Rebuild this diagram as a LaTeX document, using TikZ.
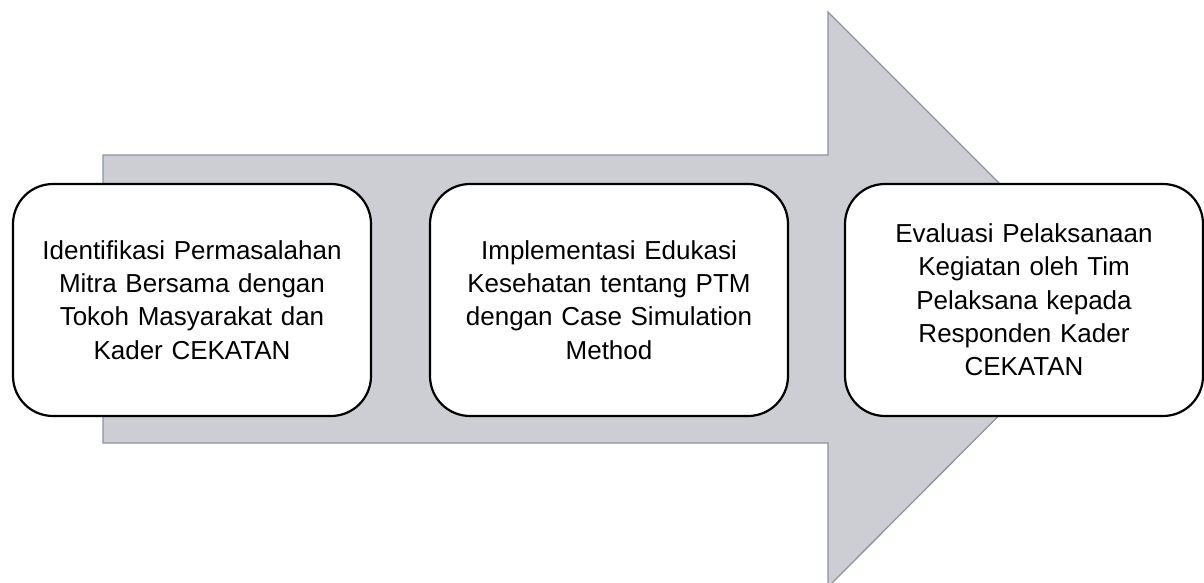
\documentclass[tikz,border=0pt]{standalone}
\usepackage{fontspec}
\setmainfont{Liberation Sans}
\begin{document}
\begin{tikzpicture}[x=1pt,y=-1pt,
  stepbox/.style={draw=black, line width=2.2pt, fill=white, rounded corners=40pt,
    minimum width=358pt, minimum height=232pt, inner sep=0pt, align=center,
    font=\fontsize{26}{33.3}\selectfont, text width=340pt},
  bigarrow/.style={fill=arrowfill, draw=arrowline, line width=1.3pt}]
\definecolor{arrowfill}{HTML}{CDCED3}
\definecolor{arrowline}{HTML}{8A93A3}
\useasboundingbox (0,0) rectangle (1204,583);
\draw[bigarrow] (103,155) -- (828,155) -- (828,12) -- (1115,299) -- (828,587) -- (828,443) -- (103,443) -- cycle;
\node[stepbox] (s1) at (192,300) {Identifikasi Permasalahan\\Mitra Bersama dengan\\Tokoh Masyarakat dan\\Kader CEKATAN};
\node[stepbox] (s2) at (609,300) {Implementasi Edukasi\\Kesehatan tentang PTM\\dengan Case Simulation\\Method};
\node[stepbox] (s3) at (1024,300) {Evaluasi Pelaksanaan\\Kegiatan oleh Tim\\Pelaksana kepada\\Responden Kader\\CEKATAN};
\end{tikzpicture}
\end{document}
